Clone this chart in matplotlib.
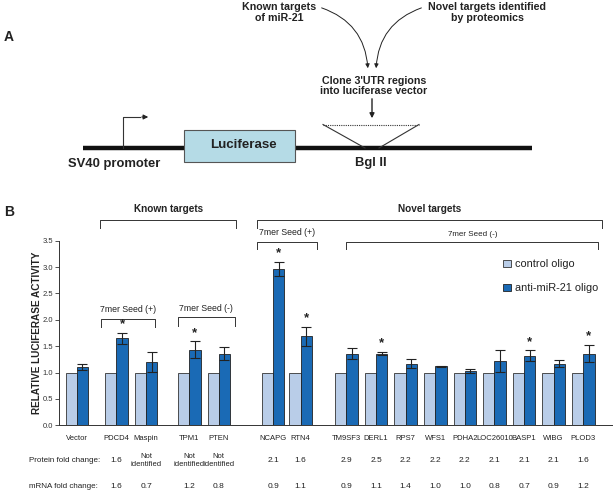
import matplotlib
matplotlib.use('Agg')

import matplotlib.pyplot as plt
import numpy as np
from matplotlib.patches import Rectangle, FancyArrowPatch
from matplotlib.transforms import blended_transform_factory

# data
genes = ["Vector", "PDCD4", "Maspin", "TPM1", "PTEN", "NCAPG", "RTN4",
         "TM9SF3", "DERL1", "RPS7", "WFS1", "PDHA2", "LOC26010", "BASP1",
         "WIBG", "PLOD3"]
control = [1.0] * 16
anti_mir = [1.10, 1.65, 1.20, 1.43, 1.36, 2.97, 1.69,
            1.36, 1.36, 1.17, 1.12, 1.03, 1.22, 1.32, 1.17, 1.36]
anti_err = [0.06, 0.10, 0.19, 0.16, 0.13, 0.13, 0.18,
            0.10, 0.03, 0.08, 0.01, 0.03, 0.20, 0.10, 0.06, 0.16]
significant = [False, True, False, True, False, True, True,
               False, True, False, False, False, False, True, False, True]
protein_fc = ["", "1.6", "Not\nidentified", "Not\nidentified", "Not\nidentified",
              "2.1", "1.6", "2.9", "2.5", "2.2", "2.2", "2.2", "2.1", "2.1",
              "2.1", "1.6"]
mrna_fc = ["", "1.6", "0.7", "1.2", "0.8", "0.9", "1.1", "0.9", "1.1",
           "1.4", "1.0", "1.0", "0.8", "0.7", "0.9", "1.2"]

# extra space before each gene (groups)
gaps = [0, 0.34, 0, 0.46, 0, 0.83, -0.07, 0.55, 0, 0, 0, 0, 0, 0, 0, 0]

C_CTRL = "#b9cde8"
C_ANTI = "#1a6ab5"
TXT = "#222222"
BOLD = ['Liberation Sans', 'DejaVu Sans']
NARROW = ['Liberation Sans Narrow', 'Liberation Sans', 'DejaVu Sans']

W, H = 615, 496
fig = plt.figure(figsize=(W / 100, H / 100), dpi=100)

# overlay in pixel coordinates (panel A + labels)
ov = fig.add_axes([0, 0, 1, 1])
ov.set_xlim(0, W)
ov.set_ylim(H, 0)
ov.axis('off')

# ---- panel A ----
ov.text(4, 37, "A", fontsize=10, fontweight='bold', family=BOLD, va='center', color=TXT)
ov.plot([83, 532], [148, 148], color='#111111', lw=3.2, solid_capstyle='butt', zorder=1)
ov.add_patch(Rectangle((184, 130), 111, 31.5, facecolor='#b5dbe6',
                       edgecolor='#555555', lw=0.8, zorder=2))
ov.text(243, 145.5, "Luciferase", fontsize=9.6, fontweight='bold', family=BOLD,
        ha='center', va='center', color=TXT, zorder=3)
ov.plot([123, 123, 140], [148, 117, 117], color='#333333', lw=0.8)
ov.annotate("", xy=(151, 117), xytext=(139, 117),
            arrowprops=dict(arrowstyle='-|>', color='#222222', lw=0.8,
                            mutation_scale=7))
ov.text(114, 164, "SV40 promoter", fontsize=9.4, fontweight='bold', family=BOLD,
        ha='center', va='center', color=TXT)
ov.text(371, 163, "Bgl II", fontsize=9.4, fontweight='bold', family=BOLD,
        ha='center', va='center', color=TXT)
ov.plot([323, 419], [124.5, 124.5], color='#333333', lw=0.8, ls=(0, (1, 1)))
ov.plot([323, 365], [124.5, 148], color='#333333', lw=0.8)
ov.plot([419, 379], [124.5, 148], color='#333333', lw=0.8)
ov.annotate("", xy=(372, 121), xytext=(372, 96),
            arrowprops=dict(arrowstyle='-|>', color='#222222', lw=1.0,
                            mutation_scale=7))
ov.text(374, 86, "Clone 3'UTR regions\ninto luciferase vector", fontsize=7.7,
        fontweight='bold', family=BOLD, ha='center', va='center', color=TXT,
        linespacing=1.08)
ov.text(279, 12.5, "Known targets\nof miR-21", fontsize=7.7, fontweight='bold',
        family=BOLD, ha='center', va='center', color=TXT, linespacing=1.08)
ov.text(487, 12.5, "Novel targets identified\nby proteomics", fontsize=7.7,
        fontweight='bold', family=BOLD, ha='center', va='center', color=TXT,
        linespacing=1.08)
ov.add_patch(FancyArrowPatch((319, 7), (368, 71), connectionstyle="arc3,rad=-0.35",
                             arrowstyle='-|>', mutation_scale=6, color='#222222', lw=0.7))
ov.add_patch(FancyArrowPatch((424, 7), (376, 71), connectionstyle="arc3,rad=0.35",
                             arrowstyle='-|>', mutation_scale=6, color='#222222', lw=0.7))

# ---- panel B ----
ov.text(4, 212, "B", fontsize=10, fontweight='bold', family=BOLD, va='center', color=TXT)

x_left, x_right, y_bot, y_top = 59.3, 612, 425.3, 240.7
ax = fig.add_axes([x_left / W, 1 - y_bot / H, (x_right - x_left) / W, (y_bot - y_top) / H])
ax.patch.set_alpha(0)

pos = np.cumsum(np.ones(len(genes)) + np.array(gaps)) - 1
bw = 0.38
ax.bar(pos - bw / 2, control, bw, color=C_CTRL, edgecolor='#333333', lw=0.6,
       label="control oligo")
ax.bar(pos + bw / 2, anti_mir, bw, color=C_ANTI, edgecolor='#222222', lw=0.6,
       label="anti-miR-21 oligo")
ax.errorbar(pos + bw / 2, anti_mir, yerr=anti_err, fmt='none', ecolor='#222222',
            elinewidth=0.8, capsize=3.5, capthick=0.8)
for p, v, e, s in zip(pos, anti_mir, anti_err, significant):
    if s:
        ax.text(p + bw / 2, v + e + 0.05, "*", ha='center', va='bottom',
                fontsize=9.5, fontweight='bold', color=TXT, family=BOLD)

ax.set_xlim(pos[0] - 0.59, pos[0] + 18.08)
ax.set_ylim(0, 3.5)
ax.set_yticks(np.arange(0, 3.51, 0.5))
ax.set_yticklabels([f"{t:.1f}" for t in np.arange(0, 3.51, 0.5)], family=NARROW,
                   fontsize=5.5, color='#333333')
ax.tick_params(axis='y', length=3, width=0.6, pad=1.5, color='#333333')
ax.set_xticks(pos)
ax.set_xticklabels(genes, family=NARROW, fontsize=5.5, color=TXT)
ax.tick_params(axis='x', length=0, pad=7)
for sp in ['top', 'right']:
    ax.spines[sp].set_visible(False)
for sp in ['left', 'bottom']:
    ax.spines[sp].set_linewidth(0.7)
    ax.spines[sp].set_color('#333333')
ax.set_ylabel("RELATIVE LUCIFERASE ACTIVITY", fontsize=7.2, fontweight='bold',
              family=BOLD, color=TXT, labelpad=0.5)

# brackets (x in data, y in data)
def bracket(x0, x1, y, drop, label, ty, fs, weight='normal'):
    ax.plot([x0, x0, x1, x1], [y - drop, y, y, y - drop], color='#333333',
            lw=0.7, clip_on=False)
    ax.text((x0 + x1) / 2, ty, label, ha='center', va='center', fontsize=fs,
            family=NARROW, color=TXT, clip_on=False, fontweight=weight)

bracket(pos[1] - bw - 0.16, pos[4] + bw + 0.2, 3.89, 0.15, "Known targets", 4.10, 7.2, 'bold')
bracket(pos[5] - bw - 0.16, pos[15] + bw + 0.26, 3.89, 0.15, "Novel targets", 4.10, 7.2, 'bold')
bracket(pos[5] - bw - 0.16, pos[6] + bw + 0.17, 3.48, 0.14, "7mer Seed (+)", 3.65, 6.3)
bracket(pos[7], pos[15] + bw + 0.12, 3.48, 0.14, "7mer Seed (-)", 3.62, 5.8)
bracket(pos[1] - bw - 0.13, pos[2] + bw - 0.07, 2.01, 0.15, "7mer Seed (+)", 2.19, 6.3)
bracket(pos[3] - bw, pos[4] + bw + 0.16, 2.06, 0.17, "7mer Seed (-)", 2.21, 6.3)

leg = ax.legend(loc='upper left', bbox_to_anchor=((498 - x_left) / (x_right - x_left), 0.93),
                frameon=False, handlelength=0.65, handleheight=0.65, handletextpad=0.4,
                labelspacing=1.3, borderpad=0, prop={'family': NARROW, 'size': 7.9})
for t in leg.get_texts():
    t.set_color(TXT)

# fold change rows
tr = blended_transform_factory(ax.transData, ov.transData)
ov.text(29, 461, "Protein fold change:", fontsize=5.8, family=NARROW, va='center', color=TXT)
ov.text(29, 487, "mRNA fold change:", fontsize=5.8, family=NARROW, va='center', color=TXT)
for p, pf, mf in zip(pos, protein_fc, mrna_fc):
    ov.text(p, 461, pf, transform=tr, fontsize=5.5 if "\n" in pf else 6.0,
            family=NARROW, ha='center', va='center', color=TXT, linespacing=1.2)
    ov.text(p, 487, mf, transform=tr, fontsize=6.0, family=NARROW,
            ha='center', va='center', color=TXT)

fig.savefig("out.png", dpi=100)
